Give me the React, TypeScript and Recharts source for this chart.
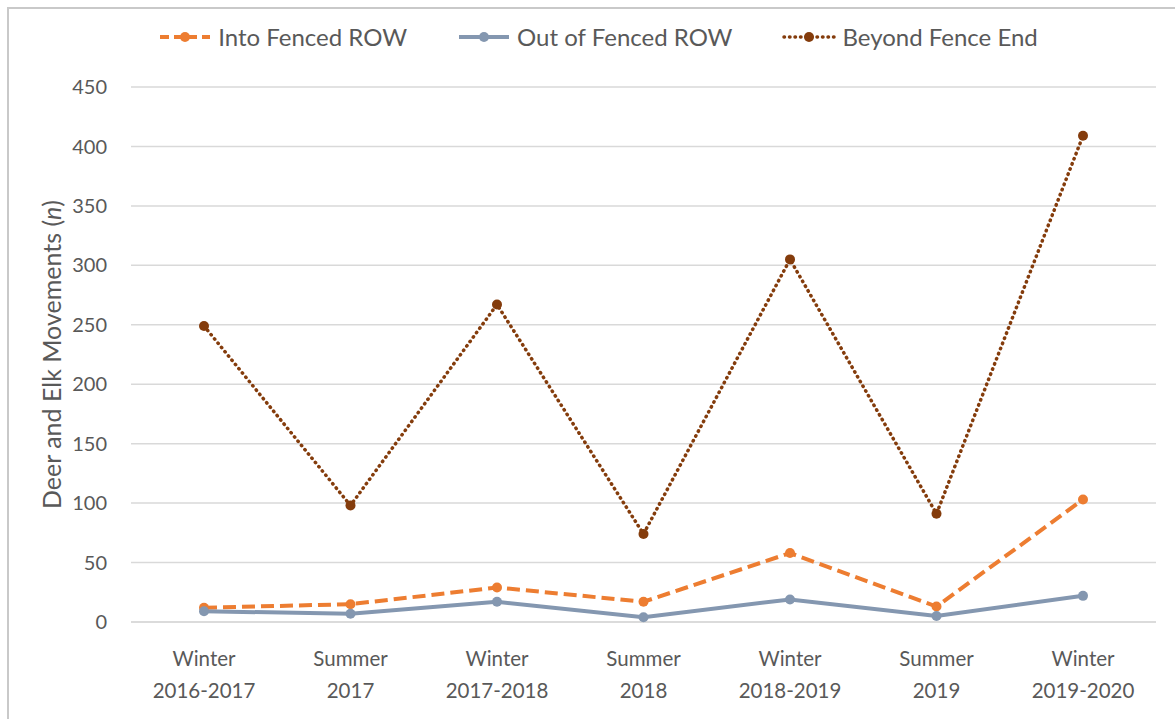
import React from 'react';
import { LineChart, Line, XAxis, YAxis, CartesianGrid } from 'recharts';

const seasons = ['Winter', 'Summer', 'Winter', 'Summer', 'Winter', 'Summer', 'Winter'];
const years = ['2016-2017', '2017', '2017-2018', '2018', '2018-2019', '2019', '2019-2020'];
const intoFenced = [12, 15, 29, 17, 58, 13, 103];
const outOfFenced = [9, 7, 17, 4, 19, 5, 22];
const beyondFenceEnd = [249, 98, 267, 74, 305, 91, 409];
const yTicks = [0, 50, 100, 150, 200, 250, 300, 350, 400, 450];

const data = seasons.map((s, i) => ({
  key: `${s} ${years[i]}`,
  season: s,
  year: years[i],
  into: intoFenced[i],
  out: outOfFenced[i],
  beyond: beyondFenceEnd[i],
}));

const FONT = 'Lato, "Open Sans", sans-serif';
const TEXT = '#595959';

const SERIES = [
  { key: 'into', name: 'Into Fenced ROW', color: '#ed7d31', dash: '13 6', legendDash: '9 5', width: 4, cap: 'butt' },
  { key: 'out', name: 'Out of Fenced ROW', color: '#8497b0', dash: undefined, legendDash: undefined, width: 4, cap: 'butt' },
  { key: 'beyond', name: 'Beyond Fence End', color: '#843c0c', dash: '0.5 5', legendDash: '0.5 5', width: 3.5, cap: 'round' },
];

function XTick(props: any) {
  const { x, y, payload } = props;
  const row = data[payload.index] ?? data.find((d) => d.key === payload.value);
  return (
    <g transform={`translate(${x},${y})`}>
      <text textAnchor="middle" fill={TEXT} fontSize={20.5} fontFamily={FONT}>
        <tspan x={0} dy={36}>{row?.season}</tspan>
        <tspan x={0} dy={32}>{row?.year}</tspan>
      </text>
    </g>
  );
}

function ChartLegend() {
  return (
    <div
      style={{
        position: 'absolute',
        left: 0,
        top: 22,
        width: 1196,
        display: 'flex',
        justifyContent: 'center',
        gap: 50,
        fontFamily: FONT,
        fontSize: 24,
        color: TEXT,
      }}
    >
      {SERIES.map((s) => (
        <span key={s.key} style={{ display: 'inline-flex', alignItems: 'center', gap: 6 }}>
          <svg width={54} height={14}>
            <line
              x1={2}
              y1={7}
              x2={52}
              y2={7}
              stroke={s.color}
              strokeWidth={s.width}
              strokeDasharray={s.legendDash}
              strokeLinecap={s.cap as any}
            />
            <circle cx={27} cy={7} r={5} fill={s.color} />
          </svg>
          {s.name}
        </span>
      ))}
    </div>
  );
}

export default function App() {
  return (
    <div style={{ position: 'absolute', left: 0, top: 0, width: 1175, height: 719, background: '#fff', overflow: 'hidden' }}>
      <div
        style={{
          position: 'absolute',
          left: 7,
          top: 7,
          width: 1200,
          height: 740,
          border: '2px solid #c9c9c9',
        }}
      />
      <ChartLegend />
      <LineChart
        width={1175}
        height={719}
        data={data}
        margin={{ top: 87, right: 19, left: 0, bottom: 0 }}
        style={{ position: 'absolute', left: 0, top: 0 }}
      >
        <CartesianGrid vertical={false} stroke="#d9d9d9" strokeWidth={1.5} />
        <XAxis
          dataKey="key"
          height={97}
          padding={{ left: 73, right: 73 }}
          axisLine={{ stroke: '#d9d9d9', strokeWidth: 1.5 }}
          tickLine={false}
          tick={<XTick />}
          interval={0}
        />
        <YAxis
          width={131}
          domain={[0, 450]}
          ticks={yTicks}
          axisLine={false}
          tickLine={false}
          tick={{ fill: TEXT, fontSize: 20, fontFamily: FONT }}
          tickMargin={18}
          label={({ viewBox }: any) => {
            const cx = 61;
            const cy = viewBox.y + viewBox.height / 2;
            return (
              <text
                x={cx}
                y={cy}
                transform={`rotate(-90, ${cx}, ${cy})`}
                textAnchor="middle"
                fill={TEXT}
                fontSize={25}
                fontFamily={FONT}
              >
                Deer and Elk Movements (<tspan fontStyle="italic">n</tspan>)
              </text>
            );
          }}
        />
        {SERIES.map((s) => (
          <Line
            key={s.key}
            type="linear"
            dataKey={s.key}
            name={s.name}
            stroke={s.color}
            strokeWidth={s.width}
            strokeDasharray={s.dash}
            strokeLinecap={s.cap as any}
            dot={{ r: 5, fill: s.color, stroke: s.color, strokeWidth: 0 }}
            activeDot={false}
            isAnimationActive={false}
          />
        ))}
      </LineChart>
    </div>
  );
}
